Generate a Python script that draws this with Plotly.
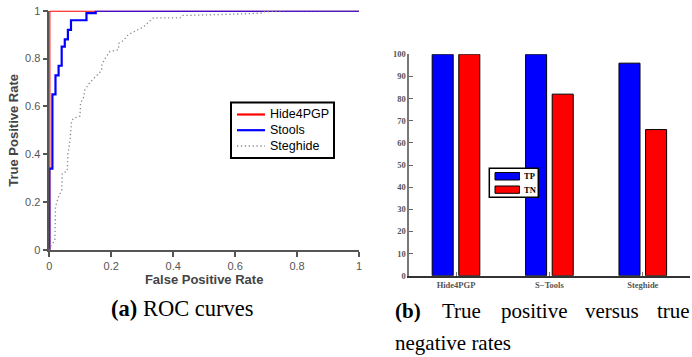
import plotly.graph_objects as go

W, H = 692, 357

# ---------------- ROC data ----------------
hide_fpr = [0, 0, 1]
hide_tpr = [0, 1, 1]

stools_fpr = [0, 0, 0.01, 0.01, 0.02, 0.02, 0.03, 0.03, 0.04, 0.04, 0.05, 0.05,
              0.06, 0.06, 0.07, 0.07, 0.12, 0.12, 0.15, 0.15, 1]
stools_tpr = [0, 0.34, 0.34, 0.65, 0.65, 0.73, 0.73, 0.77, 0.77, 0.85, 0.85, 0.88,
              0.88, 0.92, 0.92, 0.96, 0.96, 0.99, 0.99, 1, 1]

steg_fpr = [0, 0.005, 0.018, 0.02, 0.029, 0.04, 0.042, 0.058, 0.06, 0.067, 0.072, 0.078,
            0.099, 0.101, 0.11, 0.115, 0.131, 0.158, 0.169, 0.17, 0.18, 0.196, 0.223,
            0.225, 0.239, 0.255, 0.282, 0.304, 0.325, 0.336, 0.422, 0.428, 0.58, 0.69,
            0.695, 0.77, 1]
steg_tpr = [0, 0.017, 0.04, 0.18, 0.22, 0.25, 0.32, 0.33, 0.40, 0.46, 0.54, 0.55,
            0.56, 0.615, 0.635, 0.67, 0.70, 0.735, 0.75, 0.775, 0.80, 0.83, 0.837,
            0.864, 0.875, 0.90, 0.918, 0.932, 0.958, 0.97, 0.97, 0.98, 0.985, 0.99,
            0.996, 1.0, 1]

roc_xticks = [0, 0.2, 0.4, 0.6, 0.8, 1]
roc_yticks = [0, 0.2, 0.4, 0.6, 0.8, 1]
roc_names = ["Hide4PGP", "Stools", "Steghide"]

# ---------------- Bar data ----------------
tools = ["Hide4PGP", "S\u2212Tools", "Steghide"]
tp_values = [100, 100, 96]
tn_values = [100, 82, 66]
bar_yticks = list(range(0, 101, 10))
bar_names = ["TP", "TN"]


def px_x(p):
    return p / W


def px_y(p):
    return 1 - p / H


red, blue, grey = "#ff0000", "#0000ff", "#8a8a8a"
dot_dash = "1.3px,2.6px"
roc_styles = [dict(color=red, width=2.2), dict(color=blue, width=2.2),
              dict(color=grey, width=1.3, dash=dot_dash)]

fig = go.Figure()

for name, fx, ty, st in zip(roc_names, (hide_fpr, stools_fpr, steg_fpr),
                            (hide_tpr, stools_tpr, steg_tpr), roc_styles):
    fig.add_trace(go.Scatter(x=fx, y=ty, mode="lines", name=name, line=st,
                             xaxis="x", yaxis="y", showlegend=False))

fig.add_trace(go.Bar(x=tools, y=tp_values, name=bar_names[0],
                     marker=dict(color=blue, line=dict(color="#000", width=1)),
                     xaxis="x2", yaxis="y2", showlegend=False))
fig.add_trace(go.Bar(x=tools, y=tn_values, name=bar_names[1],
                     marker=dict(color=red, line=dict(color="#000", width=1)),
                     xaxis="x2", yaxis="y2", showlegend=False))

sans = "Liberation Sans, Arial, Helvetica, sans-serif"
serif = "Liberation Serif, Times New Roman, serif"

fig.update_layout(
    template="none",
    width=W, height=H,
    margin=dict(l=0, r=0, t=0, b=0, autoexpand=False),
    paper_bgcolor="white", plot_bgcolor="white",
    barmode="group", bargap=0.43, bargroupgap=0.21,
    xaxis=dict(domain=[px_x(49.3), px_x(359)], range=[0, 1], tickvals=roc_xticks, automargin=False,
               showgrid=False, zeroline=False, showline=True, linecolor="#555", linewidth=1.5,
               ticks="outside", ticklen=5, tickwidth=1.5, tickcolor="#555",
               tickfont=dict(family=sans, size=11, color="#555"),
               title=dict(text="False Positive Rate", standoff=2,
                          font=dict(family=sans, size=13, color="#444", weight="bold"))),
    yaxis=dict(domain=[px_y(250), px_y(10.7)], range=[0, 1], tickvals=roc_yticks, automargin=False,
               showgrid=False, zeroline=False, showline=True, linecolor="#555", linewidth=1.5,
               ticks="outside", ticklen=5, tickwidth=1.5, tickcolor="#555",
               tickfont=dict(family=sans, size=11, color="#555"),
               title=dict(text="True Positive Rate", standoff=3,
                          font=dict(family=sans, size=13, color="#444", weight="bold"))),
    xaxis2=dict(domain=[px_x(409.3), px_x(689.5)], anchor="y2", type="category", automargin=False,
                range=[-0.5, 2.5], showgrid=False, zeroline=False, showline=True,
                linecolor="#333", linewidth=2, ticks="inside", ticklen=4, tickcolor="#777",
                tickfont=dict(family=serif, size=8.5, color="#555", weight="bold")),
    yaxis2=dict(domain=[px_y(275.7), px_y(54.3)], anchor="x2", range=[0, 100], automargin=False,
                tickvals=bar_yticks, showgrid=False, zeroline=False, showline=True,
                linecolor="#777", linewidth=1.5, ticks="inside", ticklen=4, tickcolor="#666",
                tickfont=dict(family=serif, size=8.5, color="#555", weight="bold")),
    showlegend=False,
)

# ---- legend box for ROC panel ----
fig.add_shape(type="rect", xref="paper", yref="paper",
              x0=px_x(231), x1=px_x(334), y0=px_y(158), y1=px_y(102.5),
              line=dict(color="black", width=2), fillcolor="white")
for name, st, yc in zip(roc_names, roc_styles, (114.5, 130.2, 146)):
    fig.add_shape(type="line", xref="paper", yref="paper",
                  x0=px_x(237), x1=px_x(265), y0=px_y(yc), y1=px_y(yc), line=st)
    fig.add_annotation(x=px_x(267.5), y=px_y(yc), xref="paper", yref="paper", text=name,
                       showarrow=False, xanchor="left", yanchor="middle",
                       font=dict(family=sans, size=12.5, color="black"))

# ---- legend box for bar panel ----
fig.add_shape(type="rect", xref="paper", yref="paper",
              x0=px_x(489.3), x1=px_x(538.3), y0=px_y(197.3), y1=px_y(168.3),
              line=dict(color="black", width=1.5), fillcolor="white")
for name, col, (ya, yb) in zip(bar_names, (blue, red), ((172.5, 180), (186, 193.3))):
    fig.add_shape(type="rect", xref="paper", yref="paper",
                  x0=px_x(495), x1=px_x(519.5), y0=px_y(yb), y1=px_y(ya),
                  line=dict(color="black", width=1), fillcolor=col)
    fig.add_annotation(x=px_x(522), y=px_y((ya + yb) / 2), xref="paper", yref="paper", text=name,
                       showarrow=False, xanchor="left", yanchor="middle",
                       font=dict(family=serif, size=8.5, color="black", weight="bold"))

# ---- captions ----
fig.add_annotation(x=px_x(109), y=px_y(308), xref="paper", yref="paper",
                   text="<b>(a)</b> ROC curves", showarrow=False, xanchor="left",
                   yanchor="middle", font=dict(family=serif, size=22.5, color="black"))
cap_font = dict(family=serif, size=21, color="black")
for word, xl in (("<b>(b)</b>", 393), ("True", 440), ("positive", 499), ("versus", 583), ("true", 655)):
    fig.add_annotation(x=px_x(xl), y=px_y(311), xref="paper", yref="paper",
                       text=word, showarrow=False, xanchor="left", yanchor="middle", font=cap_font)
fig.add_annotation(x=px_x(393), y=px_y(343), xref="paper", yref="paper",
                   text="negative rates", showarrow=False, xanchor="left",
                   yanchor="middle", font=cap_font)

fig.write_html("out.html", config={"displayModeBar": False},
               post_script="document.body.style.margin='0';document.body.style.padding='0';"
                           "document.body.style.overflow='hidden';")
